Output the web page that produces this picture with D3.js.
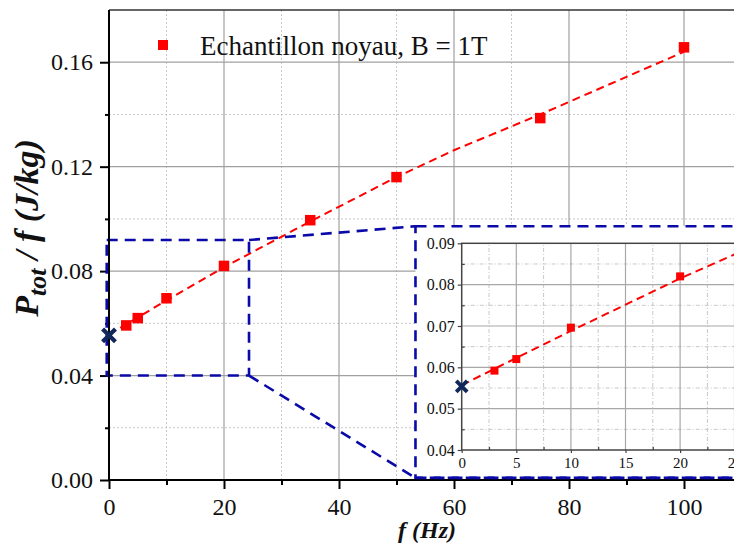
<!DOCTYPE html>
<html><head><meta charset="utf-8">
<script src="https://cdn.jsdelivr.net/npm/d3@7"></script>
<style>
html,body{margin:0;padding:0;background:#fff;}
svg{display:block;}
svg text{font-family:"Liberation Serif","Times New Roman",Times,Tinos,"Nimbus Roman","DejaVu Serif",serif !important;fill:#111;}
</style></head>
<body>
<svg id="chart" width="734" height="544"></svg>
<script>
// ---- data ----
const freq = [3, 5, 10, 20, 35, 50, 75, 100];
const ptot = [0.0592, 0.0620, 0.0696, 0.0820, 0.0995, 0.1160, 0.1386, 0.1657];
const interceptF = [0];
const interceptP = [0.0554];
const fitF = [0, 10, 20, 35, 50, 60, 75, 100];
const fitP = [0.0557, 0.0688, 0.0815, 0.0990, 0.1160, 0.1263, 0.1400, 0.1640];
const xTicks = [0, 20, 40, 60, 80, 100];
const xMinor = [10, 30, 50, 70, 90];
const yTicks = [0, 0.04, 0.08, 0.12, 0.16];
const yMinor = [0.02, 0.06, 0.10, 0.14];
const insetXTicks = [0, 5, 10, 15, 20, 25];
const insetXMinor = [2.5, 7.5, 12.5, 17.5, 22.5];
const insetYTicks = [0.04, 0.05, 0.06, 0.07, 0.08, 0.09];
const insetYMinor = [0.045, 0.055, 0.065, 0.075, 0.085];
const zoomBoxF = [-0.4, 24.35];
const zoomBoxP = [0.04, 0.0919];
const insetBoxF = [53.3, 115];
const insetBoxP = [0.0008, 0.0972];
const legendLabel = "Echantillon noyau, B = 1T";
const xTitle = "f (Hz)";

// ---- layout ----
const SERIF = '"Liberation Serif","Times New Roman",Times,Tinos,"Nimbus Roman","DejaVu Serif",serif';
const svg = d3.select("#chart");
const x = d3.scaleLinear().domain([0, 110]).range([109, 109 + 110 * 5.75]);
const y = d3.scaleLinear().domain([0, 0.18]).range([480, 10]);
const ix = d3.scaleLinear().domain([0, 25]).range([461.7, 734.7]);
const iy = d3.scaleLinear().domain([0.04, 0.09]).range([450, 243.3]);
const W = 734;
const RED = "#ff0000", BLUE = "#0a0aa8", NAVY = "#10275c";

// main grid
const g = svg.append("g");
g.selectAll(".vmin").data(xMinor).join("line")
  .attr("x1", d => x(d)).attr("x2", d => x(d)).attr("y1", y(0)).attr("y2", y(0.18))
  .attr("stroke", "#c8c8c8").attr("stroke-width", 1).attr("stroke-dasharray", "2,2");
g.selectAll(".hmin").data(yMinor).join("line")
  .attr("y1", d => y(d)).attr("y2", d => y(d)).attr("x1", x(0)).attr("x2", W)
  .attr("stroke", "#c8c8c8").attr("stroke-width", 1).attr("stroke-dasharray", "2,2");
g.selectAll(".vmaj").data(xTicks.filter(d => d > 0)).join("line")
  .attr("x1", d => x(d)).attr("x2", d => x(d)).attr("y1", y(0)).attr("y2", y(0.18))
  .attr("stroke", "#a0a0a0").attr("stroke-width", 1.2);
g.selectAll(".hmaj").data(yTicks.filter(d => d > 0)).join("line")
  .attr("y1", d => y(d)).attr("y2", d => y(d)).attr("x1", x(0)).attr("x2", W)
  .attr("stroke", "#a0a0a0").attr("stroke-width", 1.2);
g.append("line").attr("x1", x(0)).attr("x2", W).attr("y1", y(0.18)).attr("y2", y(0.18))
  .attr("stroke", "#333").attr("stroke-width", 1.5);

// main axes
svg.append("g").attr("transform", `translate(${x(0)},0)`)
  .call(d3.axisLeft(y).tickValues(yTicks).tickFormat(d3.format(".2f")).tickSize(9).tickSizeOuter(0).tickPadding(7));
svg.append("g").attr("transform", `translate(${x(0)},0)`)
  .call(d3.axisLeft(y).tickValues(yMinor).tickFormat("").tickSize(4).tickSizeOuter(0));
svg.append("g").attr("transform", `translate(0,${y(0)})`)
  .call(d3.axisBottom(x).tickValues(xTicks).tickSize(9).tickSizeOuter(0).tickPadding(9));
svg.append("g").attr("transform", `translate(0,${y(0)})`)
  .call(d3.axisBottom(x).tickValues(xMinor).tickFormat("").tickSize(5).tickSizeOuter(0));
svg.selectAll(".domain").remove();
svg.selectAll("g").attr("font-family", SERIF);
svg.selectAll(".tick line").attr("stroke", "#000").attr("stroke-width", 2);
svg.selectAll(".tick text").attr("font-size", 24).attr("fill", "#111");

// red fit line + points (main)
const line = d3.line().x(d => x(d[0])).y(d => y(d[1]));
const fitData = fitF.map((f, i) => [f, fitP[i]]);
svg.append("path").datum(fitData).attr("d", line).attr("fill", "none")
  .attr("stroke", RED).attr("stroke-width", 2).attr("stroke-dasharray", "8,5");
svg.selectAll(".pt").data(freq).join("rect")
  .attr("x", (d) => x(d) - 5.25).attr("y", (d, i) => y(ptot[i]) - 5.25)
  .attr("width", 10.5).attr("height", 10.5).attr("fill", RED);

// zoom box and connectors
const dashB = "11,7";
svg.append("rect").attr("x", x(zoomBoxF[0])).attr("y", y(zoomBoxP[1]))
  .attr("width", x(zoomBoxF[1]) - x(zoomBoxF[0])).attr("height", y(zoomBoxP[0]) - y(zoomBoxP[1]))
  .attr("fill", "none").attr("stroke", BLUE).attr("stroke-width", 2.6).attr("stroke-dasharray", dashB);
svg.append("line").attr("x1", x(zoomBoxF[1])).attr("y1", y(zoomBoxP[1]))
  .attr("x2", x(insetBoxF[0])).attr("y2", y(insetBoxP[1]))
  .attr("stroke", BLUE).attr("stroke-width", 2.6).attr("stroke-dasharray", dashB);
svg.append("line").attr("x1", x(zoomBoxF[1])).attr("y1", y(zoomBoxP[0]))
  .attr("x2", x(insetBoxF[0])).attr("y2", y(insetBoxP[0]))
  .attr("stroke", BLUE).attr("stroke-width", 2.6).attr("stroke-dasharray", dashB);
svg.append("rect").attr("x", x(insetBoxF[0])).attr("y", y(insetBoxP[1]))
  .attr("width", x(insetBoxF[1]) - x(insetBoxF[0])).attr("height", y(insetBoxP[0]) - y(insetBoxP[1]))
  .attr("fill", "#fff").attr("stroke", BLUE).attr("stroke-width", 2.6).attr("stroke-dasharray", dashB);

// main axis lines
svg.append("line").attr("x1", x(0)).attr("x2", x(0)).attr("y1", y(0.18)).attr("y2", y(0) + 1)
  .attr("stroke", "#000").attr("stroke-width", 2);
svg.append("line").attr("x1", x(0) - 1).attr("x2", W).attr("y1", y(0)).attr("y2", y(0))
  .attr("stroke", "#000").attr("stroke-width", 2);
svg.append("line").attr("x1", x(insetBoxF[0])).attr("x2", W).attr("y1", y(insetBoxP[0])).attr("y2", y(insetBoxP[0]))
  .attr("stroke", BLUE).attr("stroke-width", 2.6).attr("stroke-dasharray", dashB);

// main X marker
const xMark = d3.symbol().type(d3.symbolX);
svg.selectAll(".xm").data(interceptF).join("path")
  .attr("transform", (d, i) => `translate(${x(d)},${y(interceptP[i])})`)
  .attr("d", xMark.size(110)()).attr("stroke", NAVY).attr("stroke-width", 4.2).attr("fill", "none");

// ---- inset ----
const ins = svg.append("g").attr("font-family", SERIF);
ins.append("defs").append("clipPath").attr("id", "iclip").append("rect")
  .attr("x", ix(0)).attr("y", iy(0.09)).attr("width", ix(25) - ix(0)).attr("height", iy(0.04) - iy(0.09));
ins.selectAll(".ivmin").data(insetXMinor).join("line")
  .attr("x1", d => ix(d)).attr("x2", d => ix(d)).attr("y1", iy(0.04)).attr("y2", iy(0.09))
  .attr("stroke", "#c8c8c8").attr("stroke-width", 1).attr("stroke-dasharray", "4,2,1,2");
ins.selectAll(".ihmin").data(insetYMinor).join("line")
  .attr("y1", d => iy(d)).attr("y2", d => iy(d)).attr("x1", ix(0)).attr("x2", W)
  .attr("stroke", "#c8c8c8").attr("stroke-width", 1).attr("stroke-dasharray", "4,2,1,2");
ins.selectAll(".ivmaj").data(insetXTicks.filter(d => d > 0)).join("line")
  .attr("x1", d => ix(d)).attr("x2", d => ix(d)).attr("y1", iy(0.04)).attr("y2", iy(0.09))
  .attr("stroke", "#a8a8a8").attr("stroke-width", 1.2);
ins.selectAll(".ihmaj").data(insetYTicks.filter(d => d > 0.04 && d < 0.09)).join("line")
  .attr("y1", d => iy(d)).attr("y2", d => iy(d)).attr("x1", ix(0)).attr("x2", W)
  .attr("stroke", "#a8a8a8").attr("stroke-width", 1.2);
ins.append("g").attr("transform", `translate(${ix(0)},0)`)
  .call(d3.axisLeft(iy).tickValues(insetYTicks).tickFormat(d3.format(".2f")).tickSize(4).tickSizeOuter(0).tickPadding(3));
ins.append("g").attr("transform", `translate(${ix(0)},0)`)
  .call(d3.axisRight(iy).tickValues(insetYMinor).tickFormat("").tickSize(3).tickSizeOuter(0));
const ixAx = ins.append("g").attr("transform", `translate(0,${iy(0.04)})`)
  .call(d3.axisBottom(ix).tickValues(insetXTicks).tickFormat(d3.format("d")).tickSize(3).tickSizeOuter(0).tickPadding(4));
ins.append("g").attr("transform", `translate(0,${iy(0.04)})`)
  .call(d3.axisTop(ix).tickValues(insetXMinor).tickFormat("").tickSize(3).tickSizeOuter(0));
ins.selectAll(".domain").remove();
ins.selectAll("g").attr("font-family", SERIF);
ins.selectAll(".tick line").attr("stroke", "#444").attr("stroke-width", 1.2);
ins.selectAll(".tick text").attr("font-size", 16).attr("fill", "#222");
ixAx.selectAll(".tick text").attr("font-size", 15);
ins.append("rect").attr("x", ix(0)).attr("y", iy(0.09)).attr("width", ix(25) - ix(0)).attr("height", iy(0.04) - iy(0.09))
  .attr("fill", "none").attr("stroke", "#444").attr("stroke-width", 1.5);
const iline = d3.line().x(d => ix(d[0])).y(d => iy(d[1]));
ins.append("path").datum(fitData).attr("d", iline).attr("fill", "none").attr("clip-path", "url(#iclip)")
  .attr("stroke", RED).attr("stroke-width", 2).attr("stroke-dasharray", "8,5");
ins.selectAll(".ipt").data(freq.filter(f => f <= 25)).join("rect")
  .attr("x", d => ix(d) - 4).attr("y", (d) => iy(ptot[freq.indexOf(d)]) - 4)
  .attr("width", 8).attr("height", 8).attr("fill", RED);
ins.selectAll(".ixm").data(interceptF).join("path")
  .attr("transform", (d, i) => `translate(${ix(d)},${iy(interceptP[i])})`)
  .attr("d", xMark.size(80)()).attr("stroke", NAVY).attr("stroke-width", 3.8).attr("fill", "none");

// ---- legend ----
svg.append("rect").attr("x", 158).attr("y", 40).attr("width", 10).attr("height", 10).attr("fill", RED);
svg.append("text").attr("x", 200).attr("y", 55).attr("font-family", SERIF).attr("font-size", 27).text(legendLabel);

// ---- titles ----
svg.append("text").attr("x", 427).attr("y", 538).attr("text-anchor", "middle").attr("font-family", SERIF)
  .attr("font-size", 24).attr("font-weight", "bold").attr("font-style", "italic").text(xTitle);
const yt = svg.append("text").attr("transform", "translate(38,228) rotate(-90)").attr("text-anchor", "middle")
  .attr("font-family", SERIF).attr("font-size", 34).attr("font-weight", "bold").attr("font-style", "italic");
yt.append("tspan").text("P");
yt.append("tspan").attr("dy", 8).attr("font-size", 26).text("tot");
yt.append("tspan").attr("dy", -8).text(" / f (J/kg)");
</script>
</body></html>
